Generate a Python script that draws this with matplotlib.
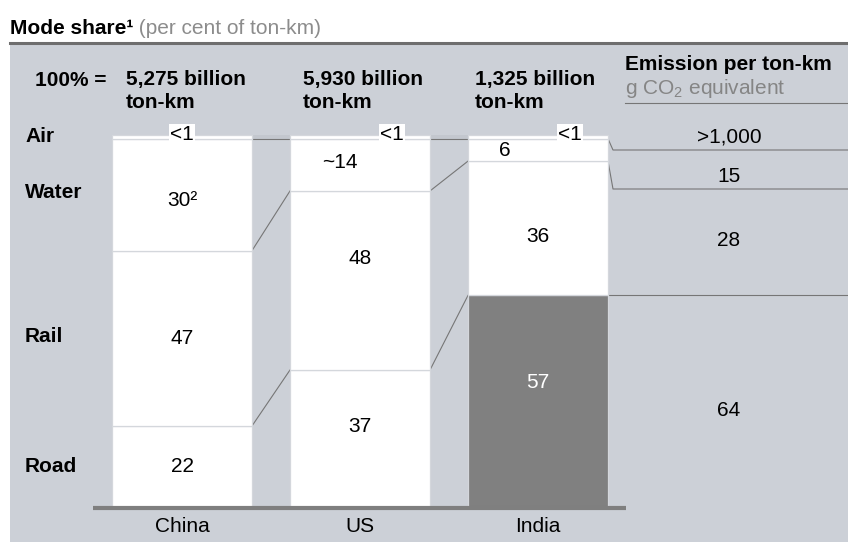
import matplotlib
matplotlib.use("Agg")
import matplotlib.pyplot as plt
import numpy as np

plt.rcParams['font.family'] = ['Liberation Sans', 'DejaVu Sans']
plt.rcParams['mathtext.fontset'] = 'custom'
plt.rcParams['mathtext.rm'] = 'Liberation Sans'
plt.rcParams['mathtext.default'] = 'regular'

# ---- data ----
countries = ['China', 'US', 'India']
totals = ['5,275', '5,930', '1,325']          # billion ton-km
modes = ['Road', 'Rail', 'Water', 'Air']       # bottom to top
road = [22, 37, 57]
rail = [47, 48, 36]
water = [30, 14, 6]
air = [1, 1, 1]
road_lbl = ['22', '37', '57']
rail_lbl = ['47', '48', '36']
water_lbl = ['30²', '~14', '6']
air_lbl = ['<1', '<1', '<1']
emission_lbl = ['64', '28', '15', '>1,000']    # road, rail, water, air

# ---- style ----
BG = '#ccd0d7'
DARK = '#808080'
LINE = '#767676'
SEP = '#d4d7dc'

W, H = 848, 542
fig = plt.figure(figsize=(W / 100, H / 100), dpi=100)
fig.patch.set_facecolor('white')

# pixel layout helpers (for placing axes / annotations)
PX_C0, PX_STEP = 182, 178          # bar centre of first column and spacing
PX_BASE, PX_TOP = 508, 135         # 0 % and 100 %
PPU = (PX_BASE - PX_TOP) / 100.0


def px(xp):
    return (xp - PX_C0) / PX_STEP


def py(yp):
    return (PX_BASE - yp) / PPU


panel_top = 43
ax = fig.add_axes([10 / W, 0, (W - 10) / W, (H - panel_top) / H])
ax.set_facecolor(BG)
ax.set_xlim(px(10), px(W))
ax.set_ylim(py(H), py(panel_top))
for s in ['left', 'right', 'bottom']:
    ax.spines[s].set_visible(False)
ax.spines['top'].set_color('#6e6e6e')
ax.spines['top'].set_linewidth(2.2)
ax.set_xticks([])
ax.set_yticks([])

x = np.arange(len(countries))
bw = 140 / PX_STEP
seg = [road, rail, water, air]
bottom = np.zeros(3)
bounds = []
for k, vals in enumerate(seg):
    vals = np.array(vals, float)
    colors = ['white'] * 3
    if k == 0:
        colors[2] = DARK
    ax.bar(x, vals, bw, bottom=bottom, color=colors, edgecolor=SEP,
           linewidth=0.9, zorder=3)
    bottom = bottom + vals
    bounds.append(bottom.copy())
# bounds[0]=top of road, [1]=top of rail, [2]=top of water, [3]=top of air

# connectors between bars
for i in range(2):
    xr = x[i] + bw / 2
    xl = x[i + 1] - bw / 2
    for b in bounds[:3]:
        ax.plot([xr, xl], [b[i], b[i + 1]], color=LINE, lw=0.8, zorder=2)
    # faint darker band linking the air segments
    ax.fill([xr, xl, xl, xr], [bounds[3][i], bounds[3][i + 1], bounds[2][i + 1], bounds[2][i]],
            color='#c3c7ce', lw=0, zorder=1)

# baseline
ax.plot([px(93), px(626)], [0, 0], color='#7f7f7f', lw=3, zorder=4, solid_capstyle='butt')

# emission column connectors
xe = x[2] + bw / 2
em_levels = [py(150), py(189)]
for b, lev in zip([bounds[2][2], bounds[1][2]], em_levels):
    ax.plot([xe, px(613), px(W)], [b, lev, lev], color=LINE, lw=0.8, zorder=2)
ax.plot([xe, px(W)], [bounds[0][2]] * 2, color=LINE, lw=0.8, zorder=2)
ax.plot([px(625), px(W)], [py(103)] * 2, color=LINE, lw=0.8, zorder=2)

FS = 15
# segment labels
for i in range(3):
    segs = [(road, road_lbl, 0), (rail, rail_lbl, 1), (water, water_lbl, 2)]
    for vals, lbls, k in segs:
        lo = bounds[k - 1][i] if k > 0 else 0
        hi = bounds[k][i]
        ym = (lo + hi) / 2
        col = 'white' if (k == 0 and i == 2) else 'black'
        ax.text(x[i], ym, lbls[i], ha='center', va='center', fontsize=FS, color=col, zorder=5)

# fine-tuned positions for labels that are off-centre in the original
texts = ax.texts
texts[3].set_y(py(427)); texts[4].set_y(py(258)); texts[5].set_position((px(340), py(162)))
texts[6].set_y(py(382)); texts[7].set_y(py(237)); texts[8].set_position((px(505), py(150)))
texts[2].set_y(py(200))

# air labels with white box
air_x = [px(182), px(392), px(570)]
for i in range(3):
    ax.text(air_x[i], py(135), air_lbl[i], ha='center', va='center', fontsize=FS, zorder=6,
            bbox=dict(boxstyle='square,pad=0.05', fc='white', ec='none'))

# row labels
row_y = [py(467), py(337), py(193), py(137)]
for m, yv in zip(modes, row_y):
    ax.text(px(25), yv, m, ha='left', va='center', fontsize=FS, fontweight='bold', zorder=5)

# header
ax.text(px(35), py(80), '100% =', ha='left', va='center', fontsize=FS, fontweight='bold')
hdr_x = [px(126), px(303), px(475)]
for i in range(3):
    ax.text(hdr_x[i], py(80), f'{totals[i]} billion', ha='left', va='center', fontsize=FS, fontweight='bold')
    ax.text(hdr_x[i], py(102), 'ton-km', ha='left', va='center', fontsize=FS, fontweight='bold')
ax.text(px(625), py(64), 'Emission per ton-km', ha='left', va='center', fontsize=FS, fontweight='bold')
ax.text(px(625), py(88), r'g CO$_2$ equivalent', ha='left', va='center', fontsize=FS, color='#858585')

# emission values
em_y = [py(410), py(240), py(176), py(137)]
for lbl, yv in zip(emission_lbl, em_y):
    ax.text(px(729), yv, lbl, ha='center', va='center', fontsize=FS, zorder=5)

# category labels
for i, c in enumerate(countries):
    ax.text(x[i], py(527), c, ha='center', va='center', fontsize=FS)

# title
t1 = fig.text(10 / W, 1 - 34 / H, 'Mode share¹', ha='left', va='baseline', fontsize=FS,
              fontweight='bold')
ax.annotate(' (per cent of ton-km)', xy=(1, 0), xycoords=t1, ha='left', va='bottom',
            fontsize=FS, color='#8c8c8c', annotation_clip=False)

fig.savefig('out.png', dpi=100, facecolor='white')
